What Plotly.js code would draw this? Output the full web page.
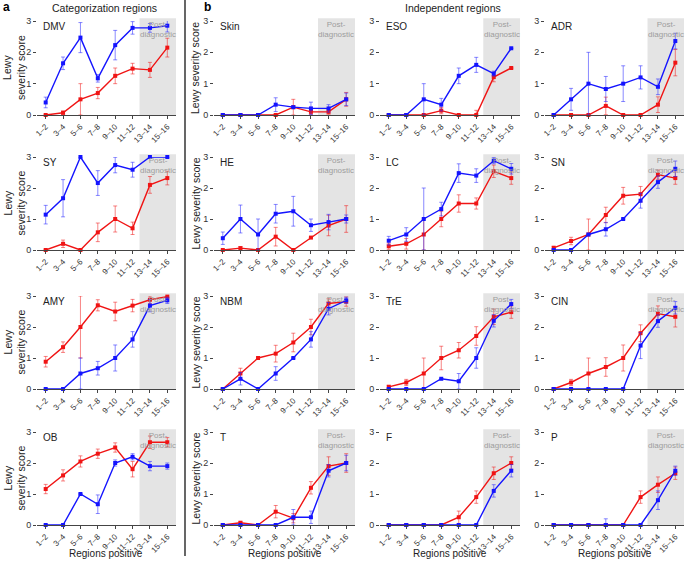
<!DOCTYPE html>
<html><head><meta charset="utf-8">
<script src="https://cdn.plot.ly/plotly-3.0.1.min.js"></script>
<style>html,body{margin:0;padding:0;background:#fff}#chart{width:685px;height:561px}</style>
</head><body><div id="chart"></div>
<script>
const categories = ['1–2','3–4','5–6','7–8','9–10','11–12','13–14','15–16'];
const panelNames = [['DMV','Skin','ESO','ADR'],['SY','HE','LC','SN'],['AMY','NBM','TrE','CIN'],['OB','T','F','P']];

const DMV_blue = [0.4,1.65,2.47,1.17,2.23,2.78,2.78,2.85];
const DMV_blueErr = [0.17,0.2,0.48,0.12,0.47,0.2,0.14,0.2];
const DMV_red = [0,0.07,0.5,0.7,1.25,1.48,1.44,2.15];
const DMV_redErr = [0,0.06,0.5,0.18,0.25,0.17,0.24,0.3];

const Skin_blue = [0,0,0,0.33,0.25,0.21,0.21,0.5];
const Skin_blueErr = [0,0,0,0.22,0,0.2,0.12,0.2];
const Skin_red = [0,0,0,0,0.25,0.1,0.1,0.5];
const Skin_redErr = [0,0,0,0,0.25,0.08,0.08,0.22];

const ESO_blue = [0,0,0.5,0.33,1.25,1.6,1.32,2.13];
const ESO_blueErr = [0,0,0.5,0.2,0.25,0.24,0.08,0];
const ESO_red = [0,0,0,0.14,0,0,1.21,1.5];
const ESO_redErr = [0,0,0,0.1,0,0.15,0.15,0];

const ADR_blue = [0,0.5,1.0,0.83,1.0,1.2,0.9,2.36];
const ADR_blueErr = [0,0.35,1.0,0.4,0.57,0.37,0.25,0.25];
const ADR_red = [0,0,0,0.29,0,0,0.33,1.67];
const ADR_redErr = [0,0,0,0.28,0,0,0.25,0.42];

const SY_blue = [1.14,1.67,3.0,2.16,2.74,2.59,3.0,3.0];
const SY_blueErr = [0.3,0.6,0,0.4,0.25,0.24,0,0];
const SY_red = [0,0.2,0,0.57,1.0,0.7,2.1,2.32];
const SY_redErr = [0,0.12,0,0.3,0.42,0.2,0.27,0.22];

const HE_blue = [0.38,1.0,0.5,1.17,1.25,0.8,0.9,1.0];
const HE_blueErr = [0.2,0.45,0.5,0.3,0.48,0.2,0.25,0.13];
const HE_red = [0,0.06,0,0.43,0,0.4,0.79,1.0];
const HE_redErr = [0,0.05,0,0.3,0,0,0.33,0.43];

const LC_blue = [0.3,0.5,1.0,1.32,2.48,2.4,2.88,2.62];
const LC_blueErr = [0.14,0.22,1.0,0.22,0.3,0.22,0.1,0.17];
const LC_red = [0.12,0.2,0.5,1.0,1.5,1.5,2.54,2.32];
const LC_redErr = [0.1,0.17,0.5,0.25,0.28,0.18,0.2,0.2];

const SN_blue = [0,0,0.5,0.67,1.0,1.59,2.19,2.62];
const SN_blueErr = [0,0,0,0.22,0,0.24,0.2,0.25];
const SN_red = [0.07,0.29,0.5,1.13,1.75,1.8,2.43,2.32];
const SN_redErr = [0.05,0.12,0.5,0.25,0.27,0.25,0.15,0.2];

const AMY_blue = [0,0,0.5,0.67,1.0,1.6,2.69,2.86];
const AMY_blueErr = [0,0,0.5,0.22,0.42,0.25,0.2,0.1];
const AMY_red = [0.88,1.35,2.0,2.7,2.5,2.69,2.88,2.98];
const AMY_redErr = [0.17,0.17,1.0,0.18,0.3,0.2,0.12,0.03];

const NBM_blue = [0,0.33,0,0.5,1.0,1.6,2.59,2.86];
const NBM_blueErr = [0,0.2,0,0.22,0,0.25,0.2,0.1];
const NBM_red = [0,0.5,1.0,1.14,1.5,2.0,2.76,2.82];
const NBM_redErr = [0,0.17,0,0.27,0.3,0.25,0.15,0.15];

const TrE_blue = [0,0,0,0.33,0.25,1.0,2.2,2.74];
const TrE_blueErr = [0,0,0,0,0.25,0.33,0.2,0.15];
const TrE_red = [0.07,0.21,0.5,1.0,1.25,1.71,2.33,2.48];
const TrE_redErr = [0.05,0.1,0.5,0.38,0.25,0.3,0.25,0.2];

const CIN_blue = [0,0,0,0,0,1.4,2.19,2.62];
const CIN_blueErr = [0,0,0,0,0,0.42,0.2,0.2];
const CIN_red = [0,0.21,0.5,0.71,1.0,1.8,2.43,2.33];
const CIN_redErr = [0.03,0.1,0.5,0.3,0.42,0.27,0.25,0.33];

const OB_blue = [0,0,1.0,0.67,2.0,2.2,1.9,1.9];
const OB_blueErr = [0,0,0,0.3,0.1,0.1,0.15,0.1];
const OB_red = [1.16,1.6,2.05,2.3,2.5,1.8,2.67,2.67];
const OB_redErr = [0.15,0.18,0.18,0.15,0.15,0.25,0.2,0.15];

const T_blue = [0,0,0,0,0.25,0.25,1.75,2.0];
const T_blueErr = [0,0,0,0,0.25,0.2,0.2,0.25];
const T_red = [0,0.07,0,0.43,0.22,1.2,1.9,2.0];
const T_redErr = [0,0.05,0,0.2,0.15,0.2,0.3,0.3];

const F_blue = [0,0,0,0,0,0,1.1,1.75];
const F_blueErr = [0,0,0,0,0,0,0.2,0.2];
const F_red = [0,0,0,0,0.25,0.9,1.67,2.0];
const F_redErr = [0,0,0,0,0.2,0.2,0.2,0.2];

const P_blue = [0,0,0,0,0,0,0.8,1.75];
const P_blueErr = [0,0,0,0.2,0,0,0.3,0.15];
const P_red = [0,0,0,0,0,0.9,1.3,1.67];
const P_redErr = [0,0,0,0,0,0.2,0.25,0.2];

const series = {
  DMV:[DMV_blue,DMV_blueErr,DMV_red,DMV_redErr], Skin:[Skin_blue,Skin_blueErr,Skin_red,Skin_redErr],
  ESO:[ESO_blue,ESO_blueErr,ESO_red,ESO_redErr], ADR:[ADR_blue,ADR_blueErr,ADR_red,ADR_redErr],
  SY:[SY_blue,SY_blueErr,SY_red,SY_redErr], HE:[HE_blue,HE_blueErr,HE_red,HE_redErr],
  LC:[LC_blue,LC_blueErr,LC_red,LC_redErr], SN:[SN_blue,SN_blueErr,SN_red,SN_redErr],
  AMY:[AMY_blue,AMY_blueErr,AMY_red,AMY_redErr], NBM:[NBM_blue,NBM_blueErr,NBM_red,NBM_redErr],
  TrE:[TrE_blue,TrE_blueErr,TrE_red,TrE_redErr], CIN:[CIN_blue,CIN_blueErr,CIN_red,CIN_redErr],
  OB:[OB_blue,OB_blueErr,OB_red,OB_redErr], T:[T_blue,T_blueErr,T_red,T_redErr],
  F:[F_blue,F_blueErr,F_red,F_redErr], P:[P_blue,P_blueErr,P_red,P_redErr]
};

const W=685, H=561;
const colLeft=[37,214,380,545], colRight=[176,355,520,684];
const rowTop=[21,157,296,432], rowBot=[115,250,389,525];
const FONT='Liberation Sans, Arial, sans-serif';
const BLUE='#1414ff', RED='#f01414';
const BLUE_E='rgba(40,40,255,0.55)', RED_E='rgba(240,30,30,0.55)';

const data=[]; const layout={width:W,height:H,margin:{l:0,r:0,t:0,b:0},showlegend:false,
  paper_bgcolor:'#fff',plot_bgcolor:'rgba(0,0,0,0)',font:{family:FONT,color:'#222'},shapes:[],annotations:[]};
const nz = a => a.map(v => v>0 ? v : null);
const ann = o => Object.assign({xref:'paper',yref:'paper',xanchor:'center',yanchor:'middle',showarrow:false}, o);

let k=0;
for(let r=0;r<4;r++){
  for(let c=0;c<4;c++){
    k++;
    const name=panelNames[r][c];
    const [b,be,rd,re]=series[name];
    const xa='x'+(k===1?'':k), ya='y'+(k===1?'':k);
    const xk='xaxis'+(k===1?'':k), yk='yaxis'+(k===1?'':k);
    const mk=(y,e,col,ecol)=>({type:'scatter',mode:'lines+markers',x:categories,y:y,xaxis:xa,yaxis:ya,
      line:{color:col,width:1.4},marker:{color:col,size:4,symbol:'square'},cliponaxis:false,hoverinfo:'skip',
      error_y:{type:'data',array:nz(e),visible:true,color:ecol,thickness:1,width:2}});
    data.push(mk(rd,re,RED,RED_E));
    data.push(mk(b,be,BLUE,BLUE_E));
    layout[xk]={domain:[colLeft[c]/W,colRight[c]/W],anchor:ya,type:'category',range:[-0.5,7.5],
      showline:true,linecolor:'#444',linewidth:1,ticks:'outside',ticklen:3,tickcolor:'#444',
      tickangle:-45,tickfont:{size:8,color:'#333'},showgrid:false,zeroline:false,fixedrange:true};
    layout[yk]={domain:[1-rowBot[r]/H,1-rowTop[r]/H],anchor:xa,range:[0,3],tickvals:[0,1,2,3],
      showline:false,ticks:'outside',ticklen:3,tickcolor:'#444',tickfont:{size:9,color:'#333'},
      showgrid:false,zeroline:false,fixedrange:true};
    layout.shapes.push({type:'rect',xref:xa,yref:ya+' domain',x0:5.4,x1:7.5,y0:0,y1:1.03,
      fillcolor:'#e4e4e4',line:{width:0},layer:'below'});
    layout.annotations.push({xref:xa+' domain',yref:ya+' domain',x:0.03,y:1.02,xanchor:'left',yanchor:'top',
      text:name,showarrow:false,font:{size:10,color:'#222'}});
    layout.annotations.push({xref:xa,yref:ya+' domain',x:6.45,y:1.03,xanchor:'center',yanchor:'top',
      text:'Post-<br>diagnostic',showarrow:false,font:{size:8,color:'#9d9d9d'}});
    if(c===0){
      layout.annotations.push(ann({x:14/W,y:1-((rowTop[r]+rowBot[r])/2)/H,
        text:'Lewy<br>severity score',textangle:-90,font:{size:10.5,color:'#222'}}));
    }
    if(c===1){
      layout.annotations.push(ann({x:195/W,y:1-((rowTop[r]+rowBot[r])/2)/H,
        text:'Lewy severity score',textangle:-90,font:{size:10.5,color:'#222'}}));
    }
    if(r===3){
      layout.annotations.push(ann({x:((colLeft[c]+colRight[c])/2)/W,y:1-553/H,
        text:'Regions positive',font:{size:10,color:'#222'}}));
    }
  }
}
layout.annotations.push(ann({x:1/W,y:1-7/H,xanchor:'left',text:'<b>a</b>',font:{size:12,color:'#000'}}));
layout.annotations.push(ann({x:202/W,y:1-7/H,xanchor:'left',text:'<b>b</b>',font:{size:12,color:'#000'}}));
layout.annotations.push(ann({x:104/W,y:1-8/H,text:'Categorization regions',font:{size:10.5,color:'#222'}}));
layout.annotations.push(ann({x:453/W,y:1-8/H,text:'Independent regions',font:{size:10.5,color:'#222'}}));
layout.shapes.push({type:'line',xref:'paper',yref:'paper',x0:185/W,x1:185/W,y0:1-556/H,y1:1,line:{color:'#000',width:1.2}});

Plotly.newPlot('chart',data,layout,{displayModeBar:false,staticPlot:true});
</script></body></html>
